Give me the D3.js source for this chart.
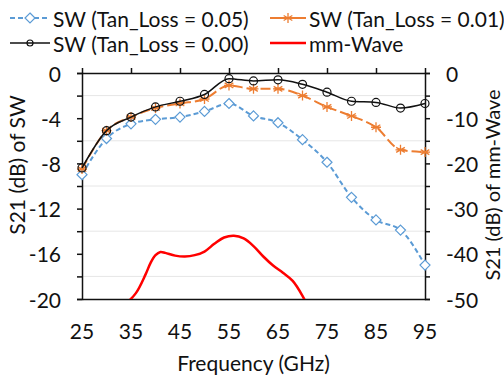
<!DOCTYPE html>
<html lang="en">
<head>
<meta charset="UTF-8">
<title>S21 chart</title>
<style>
    * { margin: 0; padding: 0; }
    html, body { overflow: hidden; background: #fff; }
    text { font-family: Lato, "Open Sans", sans-serif; fill: #111; font-size: 21px; }
</style>
</head>
<body>
<div id="chart"></div>
<script src="https://cdn.jsdelivr.net/npm/d3@7"></script>
<script>
    // values
    const freq = [25, 30, 35, 40, 45, 50, 55, 60, 65, 70, 75, 80, 85, 90, 95]
    const sw005 = [-9.0, -5.8, -4.5, -4.1, -3.9, -3.4, -2.7, -3.8, -4.4, -5.9, -7.9, -11.0, -13.0, -13.9, -17.0]
    const sw001 = [-8.5, -5.1, -3.9, -3.1, -2.7, -2.3, -1.1, -1.4, -1.4, -2.0, -3.0, -3.8, -4.8, -6.8, -7.0]
    const sw000 = [-8.4, -5.1, -3.9, -3.0, -2.5, -1.9, -0.5, -0.7, -0.6, -1.0, -1.7, -2.5, -2.6, -3.1, -2.7]

    const mmFreq = [33.5, 36, 38, 39, 40, 41, 42, 44, 46, 48, 50, 52, 54, 56, 58, 60, 62, 64, 66, 68, 70, 71]
    const mmWave = [-51.5, -48.7, -44.5, -42.0, -40.3, -39.6, -39.8, -40.4, -40.6, -40.3, -39.5, -37.8, -36.4, -36.0, -36.6, -38.3, -40.6, -42.6, -44.2, -46.0, -49.3, -51.5]

    const xTicks = [25, 35, 45, 55, 65, 75, 85, 95]
    const leftTicks = [-20, -16, -12, -8, -4, 0]
    const rightTicks = [-50, -40, -30, -20, -10, 0]
    const gridVals = [-2, -6, -10, -14, -18]

    const W = 504, H = 376
    const svg = d3.select('#chart').append('svg')
        .attr('width', W).attr('height', H)

    const x = d3.scaleLinear().domain([25, 95]).range([82, 425])
    const yL = d3.scaleLinear().domain([-20, 0]).range([299, 73])
    const yR = d3.scaleLinear().domain([-50, 0]).range([299, 73])

    // gridlines
    svg.append('g').selectAll('line').data(gridVals).join('line')
        .attr('x1', x(25)).attr('x2', x(95))
        .attr('y1', d => yL(d)).attr('y2', d => yL(d))
        .attr('stroke', '#e6e6e6').attr('stroke-width', 1)

    svg.append('clipPath').attr('id', 'clip')
        .append('rect').attr('x', x(25)).attr('y', yL(0))
        .attr('width', x(95) - x(25)).attr('height', yL(-20) - yL(0))

    // axes
    const axisL = svg.append('g').attr('transform', `translate(${x(25)},0)`)
        .call(d3.axisLeft(yL).tickValues(d3.range(-20, 1, 2)).tickSize(5).tickFormat(''))
    const axisR = svg.append('g').attr('transform', `translate(${x(95)},0)`)
        .call(d3.axisRight(yR).tickValues(d3.range(-50, 1, 5)).tickSize(5).tickFormat(''))
    const axisT = svg.append('g').attr('transform', `translate(0,${yL(0)})`)
        .call(d3.axisTop(x).tickValues(xTicks).tickSize(5).tickFormat('').tickSizeOuter(0))
    const axisB = svg.append('g').attr('transform', `translate(0,${yL(-20)})`)
        .call(d3.axisBottom(x).tickValues([]).tickSizeOuter(0))
    ;[axisL, axisR, axisT, axisB].forEach(a => {
        a.selectAll('path, line').attr('stroke', '#111').attr('stroke-width', 1.5)
    })

    // tick labels
    svg.append('g').selectAll('text').data(leftTicks).join('text')
        .attr('x', 61).attr('y', d => yL(d))
        .attr('text-anchor', 'end').attr('dominant-baseline', 'central')
        .text(d => d)
    svg.append('g').selectAll('text').data(rightTicks).join('text')
        .attr('x', 446).attr('y', d => yR(d))
        .attr('text-anchor', 'start').attr('dominant-baseline', 'central')
        .text(d => d)
    svg.append('g').selectAll('text').data(xTicks).join('text')
        .attr('x', d => x(d)).attr('y', 330)
        .attr('text-anchor', 'middle').attr('dominant-baseline', 'central')
        .text(d => d)

    // axis titles
    svg.append('text').attr('x', x(60)).attr('y', 362)
        .attr('text-anchor', 'middle').attr('dominant-baseline', 'central')
        .text('Frequency (GHz)')
    svg.append('text').attr('transform', 'translate(16,165) rotate(-90)')
        .attr('text-anchor', 'middle').attr('dominant-baseline', 'central')
        .text('S21 (dB) of SW')
    svg.append('text').attr('transform', 'translate(492,185) rotate(-90)')
        .attr('text-anchor', 'middle').attr('dominant-baseline', 'central')
        .style('font-size', '20px')
        .text('S21 (dB) of mm-Wave')

    const line = (ys) => d3.line().x((d, i) => x(freq[i])).y(d => ys(d))

    const blue = '#5b9bd5', orange = '#ed7d31', red = '#ff0000'

    // markers
    const diamond = (g, cx, cy, s) => g.append('path')
        .attr('d', `M${cx},${cy - s}L${cx + s},${cy}L${cx},${cy + s}L${cx - s},${cy}Z`)
        .attr('fill', '#fff').attr('stroke', blue).attr('stroke-width', 1.2)
    const star = (g, cx, cy, s) => {
        const p = []
        for (let k = 0; k < 3; k++) {
            const a = k * Math.PI / 3 + Math.PI / 2
            p.push(`M${cx - s * Math.cos(a)},${cy - s * Math.sin(a)}L${cx + s * Math.cos(a)},${cy + s * Math.sin(a)}`)
        }
        p.push(`M${cx - s},${cy}L${cx + s},${cy}`)
        g.append('path').attr('d', p.join('')).attr('stroke', orange).attr('stroke-width', 1.3).attr('fill', 'none')
    }
    const circ = (g, cx, cy, r) => g.append('circle')
        .attr('cx', cx).attr('cy', cy).attr('r', r)
        .attr('fill', 'none').attr('stroke', '#111').attr('stroke-width', 1.2)

    // SW 0.05
    const g1 = svg.append('g')
    g1.append('path').datum(sw005).attr('d', line(yL).curve(d3.curveMonotoneX))
        .attr('fill', 'none').attr('stroke', blue).attr('stroke-width', 2).attr('stroke-dasharray', '5,3')
    sw005.forEach((v, i) => diamond(g1, x(freq[i]), yL(v), 5))

    // SW 0.01
    const g2 = svg.append('g')
    g2.append('path').datum(sw001).attr('d', line(yL).curve(d3.curveMonotoneX))
        .attr('fill', 'none').attr('stroke', orange).attr('stroke-width', 2).attr('stroke-dasharray', '10,4')
    sw001.forEach((v, i) => star(g2, x(freq[i]), yL(v), 5))

    // SW 0.00
    const g3 = svg.append('g')
    g3.append('path').datum(sw000).attr('d', line(yL).curve(d3.curveMonotoneX))
        .attr('fill', 'none').attr('stroke', '#111').attr('stroke-width', 1.5)
    sw000.forEach((v, i) => circ(g3, x(freq[i]), yL(v), 4))

    // mm-Wave
    svg.append('path').datum(mmWave)
        .attr('clip-path', 'url(#clip)')
        .attr('d', d3.line().x((d, i) => x(mmFreq[i])).y(d => yR(d)).curve(d3.curveCatmullRom))
        .attr('fill', 'none').attr('stroke', red).attr('stroke-width', 2.5)

    // legend
    const leg = svg.append('g')
    const rows = [
        { lx: 10, y: 18, label: 'SW (Tan_Loss = 0.05)', kind: 'blue' },
        { lx: 270, y: 18, label: 'SW (Tan_Loss = 0.01)', kind: 'orange' },
        { lx: 10, y: 43, label: 'SW (Tan_Loss = 0.00)', kind: 'black' },
        { lx: 270, y: 43, label: 'mm-Wave', kind: 'red' }
    ]
    rows.forEach(r => {
        const len = r.lx < 100 ? 40 : 36
        const l = leg.append('line').attr('x1', r.lx).attr('x2', r.lx + len)
            .attr('y1', r.y).attr('y2', r.y).attr('fill', 'none')
        if (r.kind === 'blue') {
            l.attr('stroke', blue).attr('stroke-width', 2).attr('stroke-dasharray', '5,3')
            diamond(leg, r.lx + len / 2, r.y, 5)
        } else if (r.kind === 'orange') {
            l.attr('stroke', orange).attr('stroke-width', 2)
            star(leg, r.lx + len / 2, r.y, 5)
        } else if (r.kind === 'black') {
            l.attr('stroke', '#111').attr('stroke-width', 1.5)
            circ(leg, r.lx + len / 2, r.y, 3)
        } else {
            l.attr('stroke', red).attr('stroke-width', 2.5)
        }
        leg.append('text').attr('x', r.lx + len + 3).attr('y', r.y)
            .attr('dominant-baseline', 'central')
            .text(r.label)
    })
</script>
</body>
</html>
